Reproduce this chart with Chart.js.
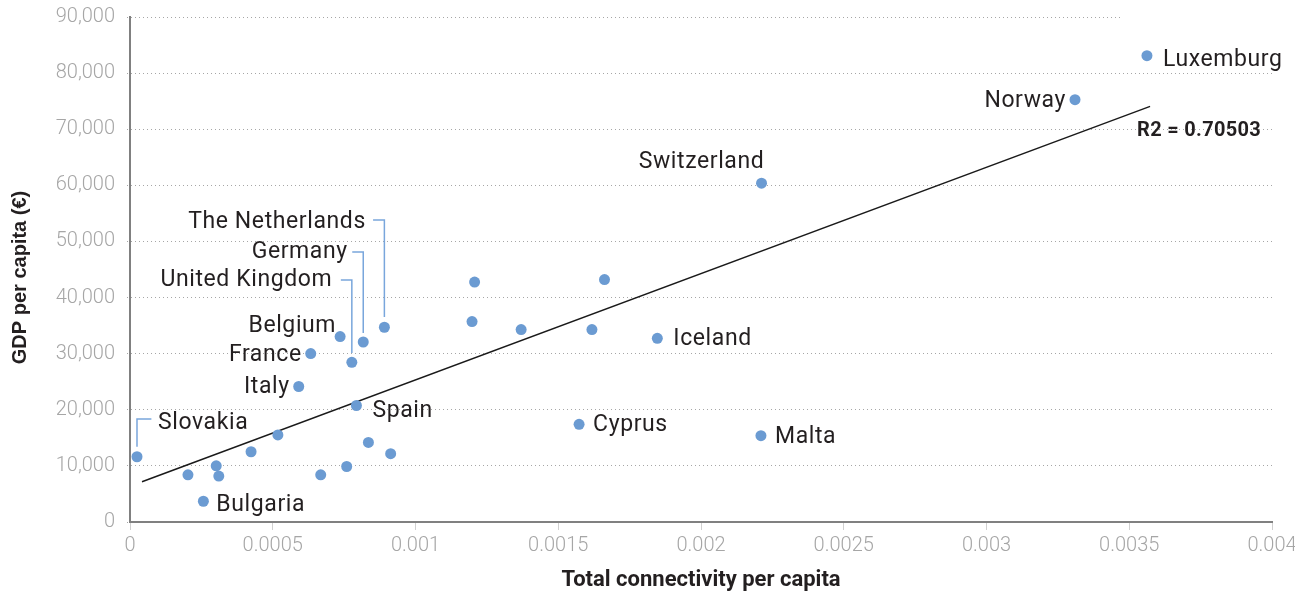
<!DOCTYPE html>
<html>
<head>
<meta charset="utf-8">
<script src="https://cdn.jsdelivr.net/npm/chart.js@4.4.0/dist/chart.umd.min.js"></script>
<style>
  html, body { margin: 0; padding: 0; background: #fff; }
  #wrap { width: 1295px; height: 594px; }
</style>
</head>
<body>
<div id="wrap"><canvas id="myChart" width="1295" height="594"></canvas></div>
<script>
// data
const countries = ['Slovakia', '', 'Bulgaria', '', '', '', '', 'Italy', 'France', '', 'Belgium', '',
  'United Kingdom', 'Spain', 'Germany', '', 'The Netherlands', '', '', '', '', '', 'Cyprus', '',
  'Iceland', 'Switzerland', 'Malta', 'Norway', 'Luxemburg']
const connectivity = [0.0000245, 0.000203, 0.000257, 0.000302, 0.000311, 0.000424, 0.000518, 0.000591,
  0.000633, 0.000668, 0.000736, 0.000759, 0.000777, 0.000793, 0.000817, 0.000835, 0.000891, 0.000913,
  0.001198, 0.001207, 0.00137, 0.001618, 0.001573, 0.001662, 0.001847, 0.002212, 0.00221, 0.00331, 0.003562]
const gdp = [11630, 8410, 3700, 10020, 8180, 12520, 15510, 24150, 30010, 8410, 33050, 9890, 28450, 20760,
  32080, 14190, 34710, 12170, 35730, 42760, 34300, 34300, 17410, 43210, 32740, 60390, 15390, 75270, 83110]

// trend line ends
const trendX = [0.000042, 0.003573]
const trendY = [7160, 74080]
const r2Text = 'R2 = 0.70503'

const xTicks = [0, 0.0005, 0.001, 0.0015, 0.002, 0.0025, 0.003, 0.0035, 0.004]
const yTicks = [0, 10000, 20000, 30000, 40000, 50000, 60000, 70000, 80000, 90000]
const yTitle = 'GDP per capita (€)'

// where each label sits relative to its point (pixels)
const labelPlace = {
  'Luxemburg': {dx: 16, dy: 10, align: 'left'},
  'Norway': {dx: -9, dy: 7, align: 'right'},
  'Switzerland': {dx: -60, dy: -15, align: 'center'},
  'Iceland': {dx: 16, dy: 7, align: 'left'},
  'Cyprus': {dx: 14, dy: 7, align: 'left'},
  'Malta': {dx: 14, dy: 7, align: 'left'},
  'Spain': {dx: 16, dy: 11, align: 'left'},
  'Italy': {dx: -9, dy: 7, align: 'right'},
  'France': {dx: -9, dy: 7, align: 'right'},
  'Belgium': {dx: -4, dy: -5, align: 'right'},
  'Bulgaria': {dx: 13, dy: 10, align: 'left'},
  'Slovakia': {dx: 21, dy: -28, align: 'left', leader: [[0, -10], [0, -37.7], [14.4, -37.7]]},
  'United Kingdom': {dx: -19.5, dy: -76, align: 'right', leader: [[0, -9.3], [0, -82.3], [-11, -82.3]]},
  'Germany': {dx: -15.5, dy: -84, align: 'right', leader: [[0, -9], [0, -90], [-11, -90]]},
  'The Netherlands': {dx: -18.5, dy: -99, align: 'right', leader: [[0, -10.3], [0, -107.3], [-11.3, -107.3]]}
}

points = connectivity.map((x, i) => ({x: x, y: gdp[i], name: countries[i]}))
trend = trendX.map((x, i) => ({x: x, y: trendY[i]}))

labelPlugin = {
  id: 'pointLabels',
  beforeDatasetsDraw: (chart) => {
    // top gridline stops short in the original
    const ctx = chart.ctx
    const yTop = chart.scales.y.getPixelForValue(yTicks[yTicks.length - 1])
    const xCut = chart.scales.x.getPixelForValue(0.00347)
    ctx.save()
    ctx.fillStyle = '#fff'
    ctx.fillRect(xCut, yTop - 2, chart.width - xCut, 4)
    ctx.restore()
  },
  afterDatasetsDraw: (chart) => {
    const ctx = chart.ctx
    const xs = chart.scales.x, ys = chart.scales.y
    ctx.save()
    ctx.font = '23px Roboto'
    ctx.letterSpacing = '0.6px'
    ctx.textBaseline = 'alphabetic'
    points.forEach((p) => {
      if (!p.name) return
      const place = labelPlace[p.name]
      const px = xs.getPixelForValue(p.x), py = ys.getPixelForValue(p.y)
      if (place.leader) {
        ctx.strokeStyle = '#79a6dc'
        ctx.lineWidth = 1.5
        ctx.beginPath()
        place.leader.forEach((pt, k) => {
          if (k == 0) ctx.moveTo(px + pt[0], py + pt[1])
          else ctx.lineTo(px + pt[0], py + pt[1])
        })
        ctx.stroke()
      }
      ctx.fillStyle = '#231f20'
      ctx.textAlign = place.align
      ctx.fillText(p.name, px + place.dx, py + place.dy)
    })
    // R2 label under the end of the trend line
    const ex = xs.getPixelForValue(trendX[1]), ey = ys.getPixelForValue(trendY[1])
    ctx.font = 'bold 20px Roboto'
    ctx.letterSpacing = '0.3px'
    ctx.textAlign = 'left'
    ctx.fillText(r2Text, ex - 13, ey + 30)

    // y axis title
    ctx.letterSpacing = '0px'
    ctx.font = 'bold 20px "Liberation Sans"'
    ctx.textAlign = 'center'
    ctx.textBaseline = 'middle'
    ctx.translate(20, (ys.top + ys.bottom) / 2 + 8)
    ctx.rotate(-Math.PI / 2)
    ctx.fillText(yTitle, 0, 0)
    ctx.restore()
  }
}

var ctx = document.getElementById('myChart').getContext('2d')
var myChart = new Chart(ctx, {
  type: 'scatter',
  data: {
    datasets: [{
      data: points,
      backgroundColor: '#6b9bd2',
      borderWidth: 0,
      pointRadius: 5.5,
      pointHoverRadius: 5.5,
      order: 0
    }, {
      type: 'line',
      data: trend,
      borderColor: '#1a1a1a',
      borderWidth: 1.5,
      pointRadius: 0,
      fill: false,
      order: 1
    }]
  },
  options: {
    responsive: false,
    animation: false,
    layout: {padding: {top: 17, right: 23, left: 0, bottom: 0}},
    plugins: {
      legend: {display: false},
      tooltip: {enabled: false}
    },
    scales: {
      x: {
        type: 'linear',
        min: xTicks[0],
        max: xTicks[xTicks.length - 1],
        afterBuildTicks: (scale) => { scale.ticks = xTicks.map(v => ({value: v})) },
        afterFit: (scale) => {
          scale.height = 72
          scale.paddingLeft = 0
          scale.paddingRight = 0
        },
        border: {display: true, color: '#808080', width: 2},
        grid: {drawOnChartArea: false, drawTicks: true, tickLength: 8, tickColor: '#d0d0d0', tickWidth: 1},
        ticks: {
          padding: 4,
          color: '#a6a6a6',
          font: {family: 'Roboto', size: 20, weight: '300'},
          callback: (v) => String(+v.toFixed(4))
        },
        title: {
          display: true,
          text: 'Total connectivity per capita',
          color: '#231f20',
          font: {family: 'Roboto', size: 22, weight: 'bold'},
          padding: {top: 0, bottom: 0}
        }
      },
      y: {
        min: yTicks[0],
        max: yTicks[yTicks.length - 1],
        afterBuildTicks: (scale) => { scale.ticks = yTicks.map(v => ({value: v})) },
        afterFit: (scale) => {
          scale.width = 130
          scale.paddingTop = 0
          scale.paddingBottom = 0
        },
        border: {display: true, color: '#808080', width: 2, dash: [1, 3]},
        grid: {color: '#a6a6a6', lineWidth: 1, drawTicks: true, tickLength: 3, tickBorderDash: [1, 3]},
        ticks: {
          padding: 12,
          color: '#a6a6a6',
          font: {family: 'Roboto', size: 20, weight: '300'},
          callback: (v) => v.toLocaleString('en-US')
        }
      }
    }
  },
  plugins: [labelPlugin]
})
</script>
</body>
</html>
